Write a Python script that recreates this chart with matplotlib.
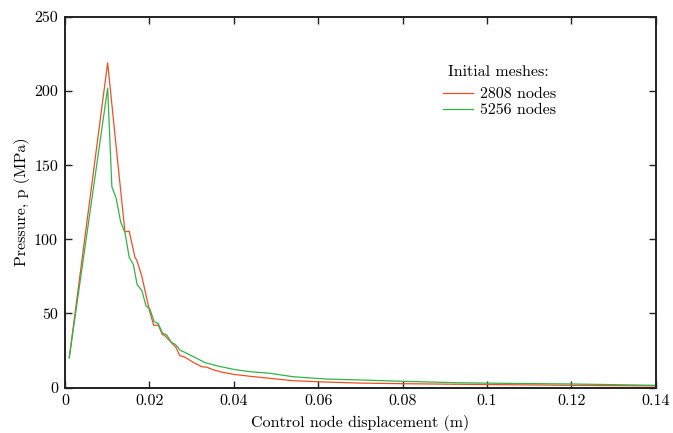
import matplotlib
matplotlib.use('Agg')
import matplotlib.pyplot as plt
from matplotlib.ticker import FormatStrFormatter, FuncFormatter

plt.rcParams['font.family'] = 'serif'
plt.rcParams['font.serif'] = ['cmr10', 'DejaVu Serif']
plt.rcParams['mathtext.fontset'] = 'cm'
plt.rcParams['axes.formatter.use_mathtext'] = True

# 2808 nodes mesh
x_2808 = [0.001, 0.0101, 0.0130, 0.0142, 0.0152, 0.0166, 0.0170, 0.0182, 0.0200,
          0.0210, 0.0221, 0.0231, 0.0235, 0.0253, 0.0263, 0.0272, 0.0284, 0.0304,
          0.0324, 0.0335, 0.0351, 0.0370, 0.0399, 0.0438, 0.0486, 0.054, 0.062,
          0.070, 0.080, 0.093, 0.105, 0.12, 0.14]
p_2808 = [20, 219, 138, 105, 105.5, 87.5, 86, 75, 52,
          42, 42, 35.5, 35.5, 30, 27, 21.5, 20.5, 17,
          14, 13.8, 12, 10.5, 8.9, 7.6, 6.2, 4.6, 3.7,
          3.0, 2.6, 2.2, 1.9, 1.5, 1.1]

# 5256 nodes mesh
x_5256 = [0.001, 0.0101, 0.0111, 0.0121, 0.0132, 0.0142, 0.0152, 0.0162, 0.0171,
          0.0182, 0.0192, 0.0201, 0.0211, 0.0221, 0.0231, 0.0241, 0.0252, 0.0262,
          0.0272, 0.0284, 0.0296, 0.0312, 0.0332, 0.0359, 0.0399, 0.0438, 0.0486,
          0.054, 0.062, 0.070, 0.080, 0.0936, 0.105, 0.12, 0.14]
p_5256 = [20, 202, 135.5, 127.8, 111.5, 104.5, 88, 82.8, 69.3,
          65.5, 55, 53, 44.6, 43, 36.6, 35.5, 30.5, 29,
          25.3, 23.7, 22, 19.7, 16.8, 14.7, 12.3, 10.7, 9.6,
          7.3, 5.7, 5.1, 4.2, 3.2, 2.8, 2.4, 1.5]

x_ticks = [0, 0.02, 0.04, 0.06, 0.08, 0.1, 0.12, 0.14]
y_ticks = [0, 50, 100, 150, 200, 250]

fig = plt.figure(figsize=(6.73, 4.33), dpi=100)
ax = fig.add_axes([0.0966, 0.105, 0.878, 0.856])

ax.plot(x_2808, p_2808, color='#f04e23', lw=0.9, label='2808 nodes')
ax.plot(x_5256, p_5256, color='#2fb44a', lw=0.9, label='5256 nodes')

ax.set_xlim(0, 0.14)
ax.set_ylim(0, 250)
ax.set_xticks(x_ticks)
ax.set_yticks(y_ticks)
ax.xaxis.set_major_formatter(FuncFormatter(lambda v, pos: '%g' % v))
ax.yaxis.set_major_formatter(FormatStrFormatter('%d'))
ax.tick_params(direction='in', top=True, right=True, length=5, width=1,
               labelsize=11.5, color='#222222', pad=5)
for s in ax.spines.values():
    s.set_linewidth(1.4)
    s.set_color('#222222')

ax.set_xlabel('Control node displacement (m)', fontsize=11.5, labelpad=5)
ax.set_ylabel('Pressure, p (MPa)', fontsize=11.5, labelpad=3)

# legend title drawn separately so the gap above the entries matches
ax.text(0.734, 0.85, 'Initial meshes:', transform=ax.transAxes,
        ha='center', va='center', fontsize=11.5)
ax.legend(frameon=False, loc='upper left',
          bbox_to_anchor=(0.64, 0.81), borderaxespad=0, borderpad=0,
          fontsize=11.5, handlelength=1.85,
          handletextpad=0.45, labelspacing=0.1)

fig.savefig('out.png', dpi=100)
